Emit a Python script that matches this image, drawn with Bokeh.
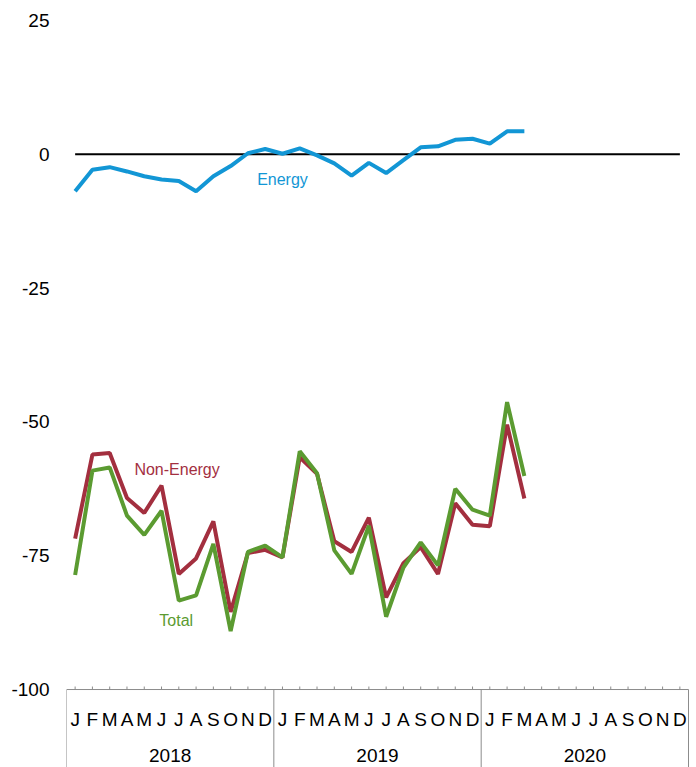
from bokeh.plotting import figure
from bokeh.models import Range1d, FixedTicker, ColumnDataSource
from bokeh.core.properties import value
from bokeh.embed import file_html
from bokeh.resources import INLINE

# ---------------- data ----------------
years = ["2018", "2019", "2020"]
month_letters = ["J", "F", "M", "A", "M", "J", "J", "A", "S", "O", "N", "D"]

energy = [-6.9, -2.9, -2.4, -3.2, -4.1, -4.7, -5.0, -6.9, -4.1, -2.2, 0.2, 1.0,
          0.1, 1.1, -0.2, -1.7, -4.0, -1.6, -3.5, -1.1, 1.3, 1.5, 2.7, 2.9,
          2.0, 4.3, 4.3]
non_energy = [-71.8, -56.1, -55.8, -64.2, -67.0, -61.9, -78.4, -75.5, -68.6, -85.5, -74.5, -73.9,
              -75.3, -56.6, -59.7, -72.3, -74.3, -67.9, -82.8, -76.4, -73.4, -78.4, -65.2, -69.2,
              -69.5, -50.5, -64.3]
total = [-78.6, -59.1, -58.5, -67.5, -71.1, -66.6, -83.4, -82.4, -72.8, -89.1, -74.3, -73.1,
         -75.3, -55.5, -59.6, -74.0, -78.4, -69.4, -86.4, -77.2, -72.5, -76.8, -62.5, -66.4,
         -67.5, -46.3, -60.1]
y_ticks = [25, 0, -25, -50, -75, -100]

series_names = ["Energy", "Non-Energy", "Total"]
series_colors = ["#1296D5", "#A32F3F", "#5B9B31"]

# ---------------- derived ----------------
n_months = 12 * len(years)
month_centers = [i + 0.5 for i in range(n_months)]
month_labels = [month_letters[i % 12] for i in range(n_months)]
x_vals = month_centers[:len(energy)]
year_centers = [12 * k + 6 for k in range(len(years))]
year_bounds = [12 * k for k in range(len(years) + 1)]
y_min = min(y_ticks)

FONT = "Liberation Sans"
W, H = 696, 767
LEFT = 66
X1 = (W - LEFT) / 17.278
Y0, Y1 = -114.57, 28.74
px_per_unit = H / (Y1 - Y0)

p = figure(width=W, height=H,
           x_range=Range1d(0, X1), y_range=Range1d(Y0, Y1),
           output_backend="svg", toolbar_location=None,
           x_axis_location=None,
           min_border_left=LEFT, min_border_right=0, min_border_top=0, min_border_bottom=0)
p.grid.visible = False
p.outline_line_color = None
p.background_fill_color = "white"
p.border_fill_color = "white"

# y axis
ya = p.yaxis[0]
ya.ticker = FixedTicker(ticks=y_ticks, minor_ticks=[])
ya.major_label_overrides = {t: str(t) for t in y_ticks}
ya.axis_line_color = None
ya.major_tick_line_color = None
ya.minor_tick_line_color = None
ya.major_tick_in = 0
ya.major_tick_out = 0
ya.minor_tick_in = 0
ya.minor_tick_out = 0
ya.major_label_text_font = FONT
ya.major_label_text_font_size = "19px"
ya.major_label_text_color = "black"
ya.major_label_standoff = 17

# category axis drawn in the frame at y = -100
AX = "#8c8c8c"
p.line(x=[year_bounds[0], year_bounds[-1]], y=[y_min, y_min], line_color=AX, line_width=1)
tick_len = 3 / px_per_unit
p.segment(x0=month_centers, y0=[y_min] * n_months, x1=month_centers,
          y1=[y_min + tick_len] * n_months, line_color=AX, line_width=1)
p.segment(x0=year_bounds, y0=[y_min] * len(year_bounds), x1=year_bounds,
          y1=[Y0] * len(year_bounds), line_color=AX, line_width=1)
p.text(x=month_centers, y=[y_min] * n_months, text=month_labels, y_offset=29.5,
       text_font=value(FONT), text_font_size="19px", text_color="black",
       text_align="center", text_baseline="middle")
p.text(x=year_centers, y=[y_min] * len(years), text=years, y_offset=65.5,
       text_font=value(FONT), text_font_size="19px", text_color="black",
       text_align="center", text_baseline="middle")

# zero line
p.line(x=[month_centers[0], month_centers[-1]], y=[0, 0], line_color="black", line_width=2)

# series
src = ColumnDataSource(dict(x=x_vals, energy=energy, non_energy=non_energy, total=total))
p.line("x", "energy", source=src, line_color=series_colors[0], line_width=4)
p.line("x", "non_energy", source=src, line_color=series_colors[1], line_width=4)
p.line("x", "total", source=src, line_color=series_colors[2], line_width=4)

# inline labels
label_x = [12.5, 6.4, 6.35]
label_y = [-4.65, -58.9, -87.1]
for name, col, lx, ly in zip(series_names, series_colors, label_x, label_y):
    p.text(x=[lx], y=[ly], text=[name], text_color=col, text_font=value(FONT),
           text_font_size="16px", text_align="center", text_baseline="middle")

open("out.html", "w").write(file_html(p, INLINE))
